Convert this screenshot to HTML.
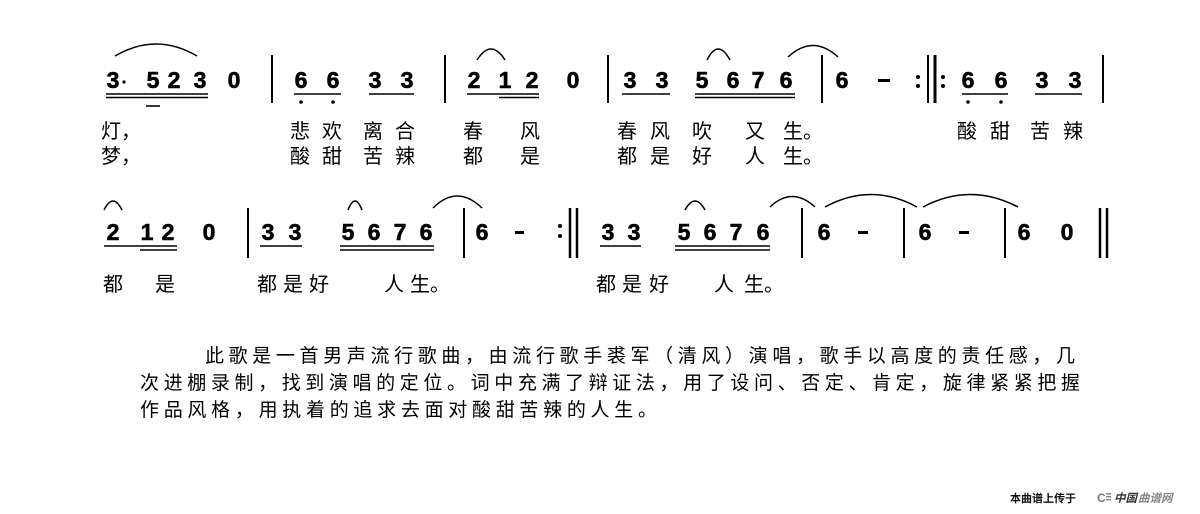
<!DOCTYPE html>
<html><head><meta charset="utf-8"><style>
html,body{margin:0;padding:0;background:#fff;}
svg{display:block;}
.d{font-family:"Liberation Sans",sans-serif;font-weight:bold;font-size:23px;text-anchor:middle;fill:#000;stroke:#000;stroke-width:0.6;}
.l{font-family:"Liberation Sans","Noto Sans CJK SC",sans-serif;font-size:20px;fill:#000;}
.p{font-family:"Liberation Sans","Noto Sans CJK SC",sans-serif;font-size:19px;fill:#000;}
</style></head><body>
<svg width="1200" height="514" viewBox="0 0 1200 514" xmlns="http://www.w3.org/2000/svg">
<g fill="none" stroke="#000" stroke-width="1.5">
<path d="M115 56 Q156 32 197 56"/>
<path d="M477 60 Q491 38 505 60"/>
<path d="M707 60 Q718 38 730 60"/>
<path d="M788 57 Q813 34 838 57"/>
<path d="M104 210 Q113 192 122 210"/>
<path d="M348 210 Q355 192 362 210"/>
<path d="M433 208 Q457 184 482 208"/>
<path d="M685 210 Q695 192 705 210"/>
<path d="M770 207 Q792 186 815 207"/>
<path d="M825 207 Q871 182 917 207"/>
<path d="M923 207 Q970 182 1018 207"/>
</g>
<g stroke="#000" stroke-width="2">
<line x1="272" y1="55" x2="272" y2="103"/>
<line x1="445" y1="55" x2="445" y2="103"/>
<line x1="608" y1="55" x2="608" y2="103"/>
<line x1="822" y1="55" x2="822" y2="103"/>
<line x1="1103" y1="55" x2="1103" y2="103"/>
<line x1="928" y1="55" x2="928" y2="103"/>
<line x1="935" y1="55" x2="935" y2="103" stroke-width="3"/>
<line x1="248" y1="208" x2="248" y2="258"/>
<line x1="464" y1="208" x2="464" y2="258"/>
<line x1="570" y1="208" x2="570" y2="258" stroke-width="2.5"/>
<line x1="577" y1="208" x2="577" y2="258" stroke-width="2.5"/>
<line x1="802" y1="208" x2="802" y2="258"/>
<line x1="904" y1="208" x2="904" y2="258"/>
<line x1="1005" y1="208" x2="1005" y2="258"/>
<line x1="1100" y1="208" x2="1100" y2="258" stroke-width="2.5"/>
<line x1="1107" y1="208" x2="1107" y2="258" stroke-width="2.5"/>
</g>
<g stroke="#000" stroke-width="1.6">
<line x1="106" y1="94" x2="208" y2="94"/><line x1="106" y1="97.5" x2="208" y2="97.5"/>
<line x1="146" y1="106" x2="160" y2="106"/>
<line x1="294" y1="94" x2="341" y2="94"/>
<line x1="369" y1="94" x2="414" y2="94"/>
<line x1="467" y1="94" x2="539" y2="94"/><line x1="499" y1="97.5" x2="539" y2="97.5"/>
<line x1="622" y1="94" x2="670" y2="94"/>
<line x1="695" y1="94" x2="795" y2="94"/><line x1="695" y1="97.5" x2="795" y2="97.5"/>
<line x1="962" y1="94" x2="1008" y2="94"/>
<line x1="1035" y1="94" x2="1082" y2="94"/>
<line x1="104" y1="246" x2="177" y2="246"/><line x1="140" y1="250" x2="177" y2="250"/>
<line x1="260" y1="246" x2="302" y2="246"/>
<line x1="340" y1="246" x2="434" y2="246"/><line x1="340" y1="250" x2="434" y2="250"/>
<line x1="600" y1="246" x2="641" y2="246"/>
<line x1="675" y1="246" x2="770" y2="246"/><line x1="675" y1="250" x2="770" y2="250"/>
</g>
<g fill="#000">
<circle cx="301" cy="102" r="1.8"/><circle cx="333" cy="102" r="1.8"/>
<circle cx="968" cy="102" r="1.8"/><circle cx="1001" cy="102" r="1.8"/>
<circle cx="124" cy="82" r="1.6"/>
<circle cx="918" cy="77" r="2"/><circle cx="918" cy="86" r="2"/>
<circle cx="943" cy="77" r="2"/><circle cx="943" cy="86" r="2"/>
<circle cx="560" cy="226" r="2"/><circle cx="560" cy="236" r="2"/>
<rect x="878" y="79" width="12" height="3"/>
<rect x="515" y="231" width="9" height="3"/>
<rect x="858" y="231" width="10" height="3"/>
<rect x="959" y="231" width="10" height="3"/>
</g>
<g class="d">
<text x="113" y="88">3</text><text x="153" y="88">5</text><text x="174" y="88">2</text><text x="200" y="88">3</text><text x="234" y="88">0</text>
<text x="301" y="88">6</text><text x="333" y="88">6</text><text x="375" y="88">3</text><text x="407" y="88">3</text>
<text x="474" y="88">2</text><text x="505" y="88">1</text><text x="532" y="88">2</text><text x="573" y="88">0</text>
<text x="630" y="88">3</text><text x="662" y="88">3</text><text x="702" y="88">5</text><text x="733" y="88">6</text><text x="758" y="88">7</text><text x="786" y="88">6</text>
<text x="842" y="88">6</text>
<text x="968" y="88">6</text><text x="1001" y="88">6</text><text x="1042" y="88">3</text><text x="1075" y="88">3</text>
</g>
<g class="d">
<text x="113" y="240">2</text><text x="147" y="240">1</text><text x="168" y="240">2</text><text x="209" y="240">0</text>
<text x="268" y="240">3</text><text x="295" y="240">3</text><text x="348" y="240">5</text><text x="374" y="240">6</text><text x="400" y="240">7</text><text x="426" y="240">6</text>
<text x="482" y="240">6</text>
<text x="608" y="240">3</text><text x="634" y="240">3</text><text x="684" y="240">5</text><text x="710" y="240">6</text><text x="736" y="240">7</text><text x="763" y="240">6</text>
<text x="824" y="240">6</text><text x="925" y="240">6</text><text x="1024" y="240">6</text><text x="1067" y="240">0</text>
</g>
<g class="l">
<text x="101" y="138">灯，</text><text x="101" y="163">梦，</text>
<text x="290" y="138">悲</text><text x="322" y="138">欢</text><text x="363" y="138">离</text><text x="395" y="138">合</text>
<text x="463" y="138">春</text><text x="520" y="138">风</text>
<text x="617" y="138">春</text><text x="650" y="138">风</text><text x="692" y="138">吹</text><text x="745" y="138">又</text><text x="783" y="138">生。</text>
<text x="957" y="138">酸</text><text x="990" y="138">甜</text><text x="1030" y="138">苦</text><text x="1063" y="138">辣</text>
<text x="290" y="163">酸</text><text x="322" y="163">甜</text><text x="363" y="163">苦</text><text x="395" y="163">辣</text>
<text x="463" y="163">都</text><text x="520" y="163">是</text>
<text x="617" y="163">都</text><text x="650" y="163">是</text><text x="692" y="163">好</text><text x="745" y="163">人</text><text x="783" y="163">生。</text>
</g>
<g class="l">
<text x="103" y="291">都</text><text x="155" y="291">是</text>
<text x="257" y="291">都</text><text x="283" y="291">是</text><text x="309" y="291">好</text><text x="384" y="291">人</text><text x="410" y="291">生。</text>
<text x="596" y="291">都</text><text x="622" y="291">是</text><text x="649" y="291">好</text><text x="714" y="291">人</text><text x="744" y="291">生。</text>
</g>
<g class="p">
<text x="205" y="362" textLength="870" lengthAdjust="spacing">此歌是一首男声流行歌曲，由流行歌手裘军（清风）演唱，歌手以高度的责任感，几</text>
<text x="140" y="389" textLength="940" lengthAdjust="spacing">次进棚录制，找到演唱的定位。词中充满了辩证法，用了设问、否定、肯定，旋律紧紧把握</text>
<text x="140" y="416" textLength="517" lengthAdjust="spacing">作品风格，用执着的追求去面对酸甜苦辣的人生。</text>
</g>
<text x="1010" y="502" style="font-family:'Liberation Sans','Noto Sans CJK SC',sans-serif;font-size:11px;font-weight:bold;fill:#111">本曲谱上传于</text>
<text x="1097" y="502" style="font-family:'Liberation Sans',sans-serif;font-size:12px;font-weight:bold;fill:#777">C</text>
<rect x="1106" y="493" width="5" height="1.5" fill="#888"/><rect x="1106" y="496" width="5" height="1.5" fill="#888"/><rect x="1106" y="499" width="5" height="1.5" fill="#888"/>
<text x="1114" y="502" style="font-family:'Liberation Sans','Noto Sans CJK SC',sans-serif;font-size:11.5px;font-weight:bold;font-style:italic;fill:#333">中国</text>
<text x="1138" y="502" style="font-family:'Liberation Sans','Noto Sans CJK SC',sans-serif;font-size:11.5px;font-weight:bold;font-style:italic;fill:#888">曲谱网</text>
</svg>
</body></html>
